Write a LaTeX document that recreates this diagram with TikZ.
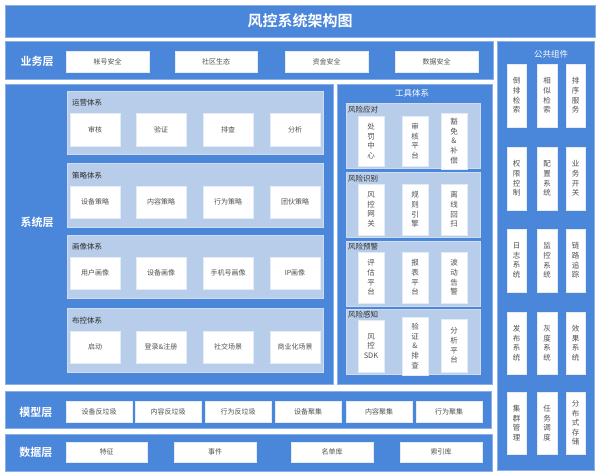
\documentclass[tikz,border=0pt]{standalone}
\usepackage{fontspec}
\setmainfont{Noto Sans CJK SC}[BoldFont={Noto Sans CJK SC Bold}]
\definecolor{myblue}{HTML}{4A86DA}
\definecolor{mylight}{HTML}{B8CDE9}
\definecolor{mytext}{HTML}{505050}
\definecolor{mydark}{HTML}{2E2E2E}
\newcommand\mkbox[7]{%
 \pgfmathsetmacro\bxw{#4-#2}\pgfmathsetmacro\bxh{#5-#3}%
 \pgfmathsetmacro\bxcx{(#2+#4)/2}\pgfmathsetmacro\bxcy{(#3+#5)/2}%
 \node[#6, minimum width=\bxw pt, minimum height=\bxh pt] (#1) at (\bxcx,\bxcy) {#7};}
\tikzset{
 base/.style={inner sep=0pt, outer sep=0pt, align=center},
 bluepanel/.style={base, fill=myblue, draw=myblue!65!white, line width=0.8pt},
 subpanel/.style={base, fill=mylight, draw=mylight!70!white, line width=0.6pt},
 wbox/.style={base, fill=white, draw=mylight!40!white, line width=0.5pt, text=mytext, font=\fontsize{7}{9}\selectfont},
 vbox/.style={base, fill=white, draw=mylight!40!white, line width=0.5pt, text=mytext, font=\fontsize{7.5}{9.6}\selectfont},
 layerlabel/.style={base, text=white, font=\fontsize{11}{13}\selectfont\bfseries},
 sublabel/.style={base, anchor=west, text=mydark, font=\fontsize{7.5}{9}\selectfont},
 whitelabel/.style={base, text=white, font=\fontsize{8.5}{10}\selectfont},
}
\begin{document}
\begin{tikzpicture}[x=1pt,y=-1pt]
\fill[white] (0,0) rectangle (600,476);
\useasboundingbox (0,0) rectangle (600,476);
% title
\mkbox{title}{5}{5}{595}{37}{bluepanel}{}
\node[base, text=white, font=\fontsize{15}{17}\selectfont\bfseries] (titletext) at (300,21) {风控系统架构图};
% business layer
\mkbox{biz}{5}{41}{493}{79}{bluepanel}{}
\node[layerlabel] (bizlabel) at (37,61) {业务层};
\mkbox{b1}{66}{51}{149}{72}{wbox}{帐号安全}
\mkbox{b2}{175}{51}{257}{72}{wbox}{社区生态}
\mkbox{b3}{285}{51}{368}{72}{wbox}{资金安全}
\mkbox{b4}{395}{51}{478}{72}{wbox}{数据安全}
% system layer
\mkbox{sys}{5}{84}{333}{384}{bluepanel}{}
\node[layerlabel] (syslabel) at (37,222) {系统层};
% 运营体系
\mkbox{p1}{67}{91}{323}{154}{subpanel}{}
\node[sublabel] (p1l) at (72,103) {运营体系};
\mkbox{p1a}{70}{113}{120}{146}{wbox}{审核}
\mkbox{p1b}{136}{113}{186}{146}{wbox}{验证}
\mkbox{p1c}{203}{113}{253}{146}{wbox}{排查}
\mkbox{p1d}{270}{113}{320}{146}{wbox}{分析}
% 策略体系
\mkbox{p2}{67}{163}{323}{227}{subpanel}{}
\node[sublabel] (p2l) at (72,176) {策略体系};
\mkbox{p2a}{70}{186}{120}{218}{wbox}{设备策略}
\mkbox{p2b}{136}{186}{186}{218}{wbox}{内容策略}
\mkbox{p2c}{203}{186}{253}{218}{wbox}{行为策略}
\mkbox{p2d}{270}{186}{320}{218}{wbox}{团伙策略}
% 画像体系
\mkbox{p3}{67}{235}{323}{298}{subpanel}{}
\node[sublabel] (p3l) at (72,247) {画像体系};
\mkbox{p3a}{70}{257}{120}{289}{wbox}{用户画像}
\mkbox{p3b}{136}{257}{186}{289}{wbox}{设备画像}
\mkbox{p3c}{203}{257}{253}{289}{wbox}{手机号画像}
\mkbox{p3d}{270}{257}{320}{289}{wbox}{IP画像}
% 布控体系
\mkbox{p4}{67}{308}{323}{372}{subpanel}{}
\node[sublabel] (p4l) at (72,321) {布控体系};
\mkbox{p4a}{70}{331}{120}{363}{wbox}{启动}
\mkbox{p4b}{136}{331}{186}{363}{wbox}{登录\&注册}
\mkbox{p4c}{203}{331}{253}{363}{wbox}{社交场景}
\mkbox{p4d}{270}{331}{320}{363}{wbox}{商业化场景}
% tool system
\mkbox{tool}{337}{84}{492}{384}{bluepanel}{}
\node[whitelabel] (toollabel) at (412,93) {工具体系};
\mkbox{t1}{346}{103}{480}{168}{subpanel}{}
\node[sublabel] (t1l) at (348,110) {风险应对};
\mkbox{t1a}{358}{116}{384}{166}{vbox}{处\\罚\\中\\心}
\mkbox{t1b}{402}{116}{428}{166}{vbox}{审\\核\\平\\台}
\mkbox{t1c}{441}{113}{467}{169}{vbox}{豁\\免\\\&\\补\\偿}
\mkbox{t2}{346}{172}{480}{237}{subpanel}{}
\node[sublabel] (t2l) at (348,179) {风险识别};
\mkbox{t2a}{358}{184}{384}{235}{vbox}{风\\控\\网\\关}
\mkbox{t2b}{402}{184}{428}{235}{vbox}{规\\则\\引\\擎}
\mkbox{t2c}{441}{184}{467}{235}{vbox}{离\\线\\回\\扫}
\mkbox{t3}{346}{241}{480}{306}{subpanel}{}
\node[sublabel] (t3l) at (348,247) {风险预警};
\mkbox{t3a}{358}{252}{384}{303}{vbox}{评\\估\\平\\台}
\mkbox{t3b}{402}{252}{428}{303}{vbox}{报\\表\\平\\台}
\mkbox{t3c}{441}{252}{467}{303}{vbox}{波\\动\\告\\警}
\mkbox{t4}{346}{309}{480}{374}{subpanel}{}
\node[sublabel] (t4l) at (348,315) {风险感知};
\mkbox{t4a}{358}{320}{384}{372}{vbox}{风\\控\\SDK}
\mkbox{t4b}{402}{317}{428}{375}{vbox}{验\\证\\\&\\排\\查}
\mkbox{t4c}{441}{319}{467}{372}{vbox}{分\\析\\平\\台}
% model layer
\mkbox{model}{5}{391}{491}{428}{bluepanel}{}
\node[layerlabel] (modellabel) at (36,412) {模型层};
\mkbox{m1}{66}{401}{132}{422}{wbox}{设备反垃圾}
\mkbox{m2}{135}{401}{201}{422}{wbox}{内容反垃圾}
\mkbox{m3}{205}{401}{271}{422}{wbox}{行为反垃圾}
\mkbox{m4}{275}{401}{341}{422}{wbox}{设备聚集}
\mkbox{m5}{346}{401}{412}{422}{wbox}{内容聚集}
\mkbox{m6}{416}{401}{482}{422}{wbox}{行为聚集}
% data layer
\mkbox{data}{5}{434}{492}{471}{bluepanel}{}
\node[layerlabel] (datalabel) at (36,452) {数据层};
\mkbox{d1}{66}{442}{147}{462}{wbox}{特征}
\mkbox{d2}{174}{442}{256}{462}{wbox}{事件}
\mkbox{d3}{291}{442}{373}{462}{wbox}{名单库}
\mkbox{d4}{400}{442}{482}{462}{wbox}{索引库}
% public components
\mkbox{pub}{497}{41}{594}{470}{bluepanel}{}
\node[whitelabel] (publabel) at (551,54) {公共组件};
\mkbox{c11}{507}{64}{526}{127}{vbox}{倒\\排\\检\\索}
\mkbox{c12}{537}{64}{557}{127}{vbox}{相\\似\\检\\索}
\mkbox{c13}{566}{64}{585}{127}{vbox}{排\\序\\服\\务}
\mkbox{c21}{507}{147}{526}{210}{vbox}{权\\限\\控\\制}
\mkbox{c22}{537}{147}{557}{210}{vbox}{配\\置\\系\\统}
\mkbox{c23}{566}{147}{585}{210}{vbox}{业\\务\\开\\关}
\mkbox{c31}{507}{229}{526}{292}{vbox}{日\\志\\系\\统}
\mkbox{c32}{537}{229}{557}{292}{vbox}{监\\控\\系\\统}
\mkbox{c33}{566}{229}{585}{292}{vbox}{链\\路\\追\\踪}
\mkbox{c41}{507}{312}{526}{374}{vbox}{发\\布\\系\\统}
\mkbox{c42}{537}{312}{557}{374}{vbox}{灰\\度\\系\\统}
\mkbox{c43}{566}{312}{585}{374}{vbox}{效\\果\\系\\统}
\mkbox{c51}{507}{392}{526}{454}{vbox}{集\\群\\管\\理}
\mkbox{c52}{537}{392}{557}{454}{vbox}{任\\务\\调\\度}
\mkbox{c53}{566}{392}{585}{454}{vbox}{分\\布\\式\\存\\储}
\end{tikzpicture}
\end{document}
